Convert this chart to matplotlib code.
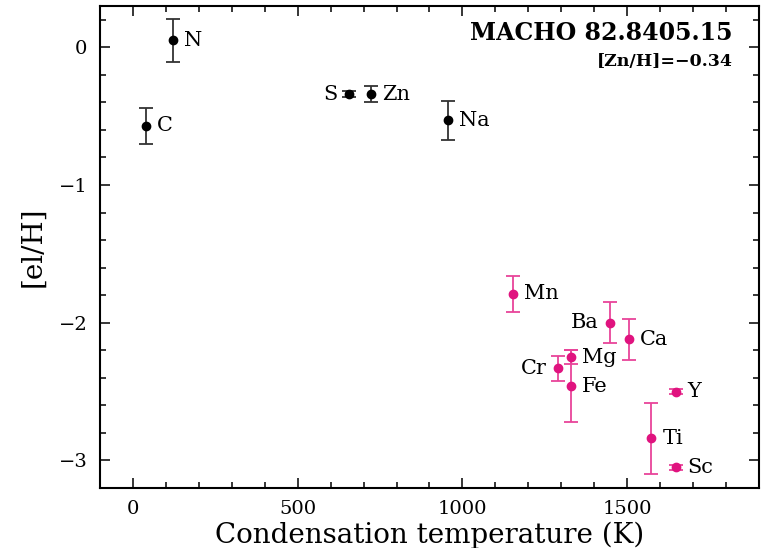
import matplotlib
matplotlib.use('Agg')
import matplotlib.pyplot as plt
from matplotlib.ticker import MultipleLocator

plt.rcParams['font.family'] = 'DejaVu Serif'

# condensation temperature (K), [el/H], error
black_el = ['C', 'N', 'S', 'Zn', 'Na']
black_tc = [40, 121, 655, 721, 955]
black_ab = [-0.57, 0.05, -0.34, -0.34, -0.53]
black_err = [0.13, 0.155, 0.02, 0.06, 0.14]

pink_el = ['Mn', 'Cr', 'Mg', 'Fe', 'Ba', 'Ca', 'Ti', 'Y', 'Sc']
pink_tc = [1152, 1291, 1329, 1329, 1448, 1506, 1573, 1648, 1648]
pink_ab = [-1.79, -2.33, -2.25, -2.46, -2.00, -2.12, -2.84, -2.50, -3.05]
pink_err = [0.13, 0.09, 0.05, 0.26, 0.15, 0.15, 0.26, 0.02, 0.02]

left_labels = ['S', 'Ba', 'Cr']

fig = plt.figure(figsize=(7.63, 5.48), dpi=100)
ax = fig.add_axes([100 / 763, 1 - 488 / 548, 659 / 763, 482 / 548])

ax.errorbar(black_tc, black_ab, yerr=black_err, fmt='o', color='black', ecolor='#333333',
            ms=6, elinewidth=1.3, capsize=5, capthick=1.3)
ax.errorbar(pink_tc, pink_ab, yerr=pink_err, fmt='o', color='#e0137f', ecolor='#e8449a',
            ms=6, elinewidth=1.3, capsize=5, capthick=1.3)

for el, x, y in zip(black_el + pink_el, black_tc + pink_tc, black_ab + pink_ab):
    if el in left_labels:
        ax.annotate(el, (x, y), xytext=(-8, 0), textcoords='offset points',
                    ha='right', va='center', fontsize=15)
    else:
        ax.annotate(el, (x, y), xytext=(8, 0), textcoords='offset points',
                    ha='left', va='center', fontsize=15)

ax.set_xlim(-100, 1900)
ax.set_ylim(-3.2, 0.3)
ax.xaxis.set_major_locator(MultipleLocator(500))
ax.xaxis.set_minor_locator(MultipleLocator(100))
ax.yaxis.set_major_locator(MultipleLocator(1))
ax.yaxis.set_minor_locator(MultipleLocator(0.2))
ax.tick_params(which='both', direction='in', top=True, right=True, labelsize=14, width=1.1)
ax.tick_params(which='major', length=7, pad=9)
ax.tick_params(which='minor', length=4)
for s in ax.spines.values():
    s.set_linewidth(1.5)

ax.set_xlabel('Condensation temperature (K)', fontsize=20, labelpad=2)
ax.set_ylabel('[el/H]', fontsize=20, labelpad=9)

ax.text(0.96, 0.945, 'MACHO 82.8405.15', transform=ax.transAxes, ha='right', va='center',
        fontsize=17, fontweight='bold')
ax.text(0.96, 0.885, '[Zn/H]=\u22120.34', transform=ax.transAxes, ha='right', va='center',
        fontsize=12.5, fontweight='bold')

plt.savefig('out.png', dpi=100)
